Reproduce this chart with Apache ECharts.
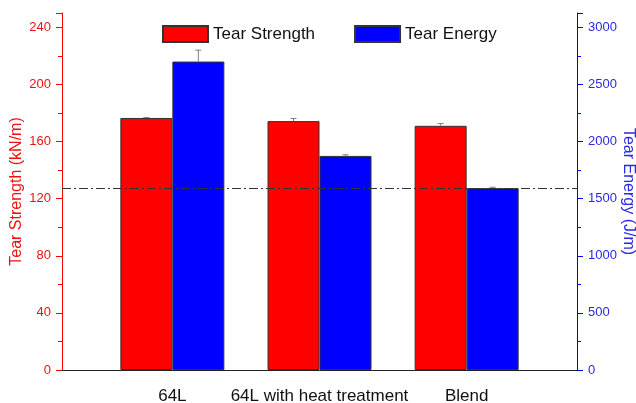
<!DOCTYPE html>
<html>
<head>
<meta charset="utf-8">
<script src="https://cdn.jsdelivr.net/npm/echarts@6/dist/echarts.min.js"></script>
<style>
html,body{margin:0;padding:0;background:#fff;}
#chart{width:636px;height:403px;}
</style>
</head>
<body>
<div id="chart"></div>
<script>
// ---- data ----
var groups = ['64L', '64L with heat treatment', 'Blend'];
var strength = [176.5, 174.3, 171.0];      // kN/m
var strengthErr = [0.3, 1.8, 1.6];
var energy = [2700, 1874, 1592];           // J/m
var energyErr = [100, 10, 8];
var refLineEnergy = 1592;                  // J/m, dash-dot reference
var leftTicks = [0, 40, 80, 120, 160, 200, 240];
var rightTicks = [0, 500, 1000, 1500, 2000, 2500, 3000];

// build padded category list (spacer slots between groups)
var categories = [];
var strengthData = [];
var energyData = [];
var strengthErrData = [];
var energyErrData = [];
categories.push('');
strengthData.push(null); energyData.push(null);
for (var i = 0; i < groups.length; i++) {
  var idx = categories.length;
  categories.push(groups[i]);
  strengthData.push(strength[i]);
  energyData.push(energy[i]);
  strengthErrData.push([idx, strength[i], strengthErr[i]]);
  energyErrData.push([idx, energy[i], energyErr[i]]);
  categories.push('');
  strengthData.push(null); energyData.push(null);
}

var FONT = "'Liberation Sans', Arial, sans-serif";
var BAR_W = 52;

function errRender(offset) {
  return function (params, api) {
    var x = api.value(0), v = api.value(1), e = api.value(2);
    var base = api.coord([x, v]);
    var top = api.coord([x, v + e]);
    var cx = base[0] + offset;
    var st = { stroke: '#808080', lineWidth: 1 };
    return {
      type: 'group',
      children: [
        { type: 'line', shape: { x1: cx, y1: base[1], x2: cx, y2: top[1] }, style: st },
        { type: 'line', shape: { x1: cx - 3, y1: top[1], x2: cx + 3, y2: top[1] }, style: st }
      ]
    };
  };
}
function plain(v) { return String(v); }

var chart = echarts.init(document.getElementById('chart'), null, { renderer: 'canvas' });
chart.setOption({
  animation: false,
  backgroundColor: '#fff',
  textStyle: { fontFamily: FONT },
  grid: { left: 62, right: 59, top: 13, bottom: 33, containLabel: false, outerBoundsMode: 'none' },
  legend: {
    data: ['Tear Strength', 'Tear Energy'],
    left: 157, top: 20,
    itemWidth: 45, itemHeight: 16, itemGap: 39,
    icon: 'rect',
    textStyle: { fontSize: 17, color: '#111', fontFamily: FONT }
  },
  xAxis: [{
    type: 'category',
    data: categories,
    axisLine: { lineStyle: { color: '#222', width: 1 } },
    axisTick: { alignWithLabel: true, interval: 0, length: 5, lineStyle: { color: '#222' } },
    axisLabel: { interval: 0, fontSize: 17, color: '#111', margin: 18, fontFamily: FONT }
  }, {
    type: 'category',
    position: 'top',
    data: categories,
    axisLine: { lineStyle: { color: '#222', width: 1 } },
    axisTick: { show: false },
    axisLabel: { show: false }
  }],
  yAxis: [{
    type: 'value',
    min: 0, max: 250, interval: 40,
    position: 'left',
    name: 'Tear Strength (kN/m)',
    nameLocation: 'middle',
    nameRotate: 90,
    nameGap: 37,
    nameMoveOverlap: false,
    nameTextStyle: { fontSize: 16, color: '#ee1111', fontFamily: FONT },
    axisLine: { show: true, lineStyle: { color: '#ff0000', width: 1 } },
    axisTick: { show: true, length: 6, lineStyle: { color: '#ff0000' } },
    minorTick: { show: true, splitNumber: 2, length: 4, lineStyle: { color: '#ff0000' } },
    axisLabel: { fontSize: 13, color: '#ee1111', margin: 11, showMaxLabel: false, formatter: plain, fontFamily: FONT },
    splitLine: { show: false }
  }, {
    type: 'value',
    min: 0, max: 3125, interval: 500,
    position: 'right',
    name: 'Tear Energy (J/m)',
    nameLocation: 'middle',
    nameRotate: -90,
    nameGap: 43,
    nameMoveOverlap: false,
    nameTextStyle: { fontSize: 16, color: '#2a2ae0', fontFamily: FONT },
    axisLine: { show: true, lineStyle: { color: '#0000ff', width: 1 } },
    axisTick: { show: true, length: 6, lineStyle: { color: '#0000ff' } },
    minorTick: { show: true, splitNumber: 2, length: 4, lineStyle: { color: '#0000ff' } },
    axisLabel: { fontSize: 13, color: '#2a2ae0', margin: 11, showMaxLabel: false, formatter: plain, fontFamily: FONT },
    splitLine: { show: false }
  }],
  series: [{
    name: 'Tear Strength',
    type: 'bar',
    xAxisIndex: 0, yAxisIndex: 0,
    data: strengthData,
    barWidth: BAR_W,
    barGap: '0%',
    itemStyle: { color: '#ff0000', borderColor: '#333', borderWidth: 1 }
  }, {
    name: 'Tear Energy',
    type: 'bar',
    xAxisIndex: 0, yAxisIndex: 1,
    data: energyData,
    barWidth: BAR_W,
    barGap: '0%',
    itemStyle: { color: '#0000ff', borderColor: '#333', borderWidth: 1 },
    markLine: {
      silent: true,
      symbol: ['none', 'none'],
      label: { show: false },
      lineStyle: { color: '#333', width: 1, type: [9, 3, 2, 3] },
      data: [{ yAxis: refLineEnergy }]
    }
  }, {
    type: 'custom',
    xAxisIndex: 0, yAxisIndex: 0,
    data: strengthErrData,
    encode: { x: 0, y: 1 },
    renderItem: errRender(-BAR_W / 2),
    z: 3
  }, {
    type: 'custom',
    xAxisIndex: 0, yAxisIndex: 1,
    data: energyErrData,
    encode: { x: 0, y: 1 },
    renderItem: errRender(BAR_W / 2),
    z: 3
  }]
});
</script>
</body>
</html>
